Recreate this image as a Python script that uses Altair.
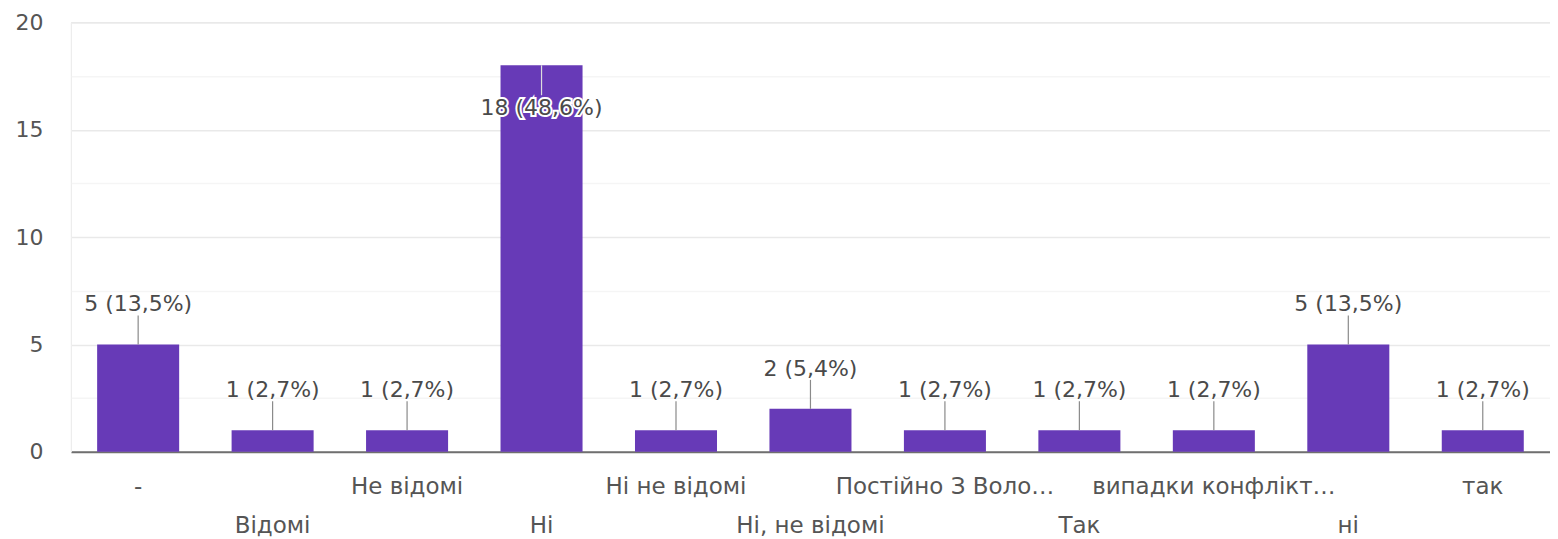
import json
import altair as alt
import pandas as pd

categories = ["-", "Відомі", "Не відомі", "Ні", "Ні не відомі", "Ні, не відомі",
              "Постійно З Воло…", "Так", "випадки конфлікт…", "ні", "так"]
counts = [5, 1, 1, 18, 1, 2, 1, 1, 1, 5, 1]
value_labels = ["5 (13,5%)", "1 (2,7%)", "1 (2,7%)", "18 (48,6%)", "1 (2,7%)", "2 (5,4%)",
                "1 (2,7%)", "1 (2,7%)", "1 (2,7%)", "5 (13,5%)", "1 (2,7%)"]
y_ticks = [0, 2.5, 5, 7.5, 10, 12.5, 15, 17.5, 20]

df = pd.DataFrame({"cat": categories, "count": counts, "label": value_labels})

FONT = "DejaVu Sans"
PURPLE = "#673ab7"
cats_js = json.dumps(categories, ensure_ascii=False)

x_enc = alt.X(
    "cat:N",
    sort=categories,
    scale=alt.Scale(paddingInner=0.39, paddingOuter=0.195),
    axis=alt.Axis(
        title=None, labelAngle=0, ticks=False, tickSize=0, labelPadding=24,
        labelFont=FONT, labelFontSize=23, labelColor="#555555",
        labelLimit=500, labelOverlap=False, labelBaseline="top",
        labelLineHeight=39,
        labelExpr=f"indexof({cats_js}, datum.value) % 2 == 1 ? ['', datum.label] : datum.label",
        domainColor="#6f6f6f", domainWidth=2, grid=False,
    ),
)
y_enc = alt.Y(
    "count:Q",
    scale=alt.Scale(domain=[0, 20], nice=False),
    axis=alt.Axis(
        title=None, values=y_ticks, ticks=False, tickSize=0, labelPadding=28,
        labelFont=FONT, labelFontSize=22, labelColor="#555555",
        labelExpr="datum.value % 5 == 0 ? datum.label : ''",
        domain=True, domainColor="#efefef", domainWidth=1,
        grid=True,
        gridColor={"condition": {"test": "datum.value % 5 == 0", "value": "#e9e9e9"},
                   "value": "#f5f5f5"},
        gridWidth=1.5,
    ),
)

base = alt.Chart(df)

bars = base.mark_bar(color=PURPLE).encode(x=x_enc, y=y_enc)

small = "datum.count < 15"
big = "datum.count >= 15"

lead_small = base.transform_filter(small).mark_rule(color="#8a8a8a", strokeWidth=1.2, y2Offset=-29).encode(
    x=alt.X("cat:N", sort=categories), y="count:Q", y2="count:Q")
lead_big = base.transform_filter(big).mark_rule(color="#dddddd", strokeWidth=1.2, y2Offset=30).encode(
    x=alt.X("cat:N", sort=categories), y="count:Q", y2="count:Q")

txt_small = base.transform_filter(small).mark_text(
    font=FONT, fontSize=22, color="#4a4a4a", dy=-40, baseline="middle").encode(
    x=alt.X("cat:N", sort=categories), y="count:Q", text="label:N")
halo_big = base.transform_filter(big).mark_text(
    font=FONT, fontSize=22, color="white", stroke="white", strokeWidth=4, dy=43, baseline="middle").encode(
    x=alt.X("cat:N", sort=categories), y="count:Q", text="label:N")
txt_big = base.transform_filter(big).mark_text(
    font=FONT, fontSize=22, color="#4a4a4a", dy=43, baseline="middle").encode(
    x=alt.X("cat:N", sort=categories), y="count:Q", text="label:N")

chart = alt.layer(bars, lead_small, lead_big, txt_small, halo_big, txt_big).properties(
    width=1481, height=430,
    autosize=alt.AutoSizeParams(type="none"),
    padding={"left": 63, "top": 14, "right": 0, "bottom": 88},
).configure_view(stroke=None).configure(background="white")

chart.save("out.html", embed_options={"renderer": "svg", "actions": False})
